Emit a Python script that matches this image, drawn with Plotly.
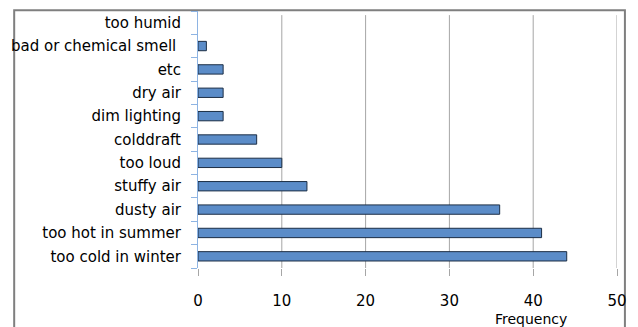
import plotly.graph_objects as go

# Complaint categories, listed bottom to top
categories = [
    "too cold in winter",
    "too hot in summer",
    "dusty air",
    "stuffy air",
    "too loud",
    "colddraft",
    "dim lighting",
    "dry air",
    "etc",
    "bad or chemical smell\u00a0",
    "too humid",
]
frequency = [44, 41, 36, 13, 10, 7, 3, 3, 3, 1, 0]
x_ticks = [0, 10, 20, 30, 40, 50]

FONT = "DejaVu Sans"
GRID = "#A6A6A6"

# no outline on empty bars so the axis line stays clean
outline_widths = [1 if v > 0 else 0 for v in frequency]

fig = go.Figure(
    go.Bar(
        x=frequency,
        y=categories,
        orientation="h",
        marker=dict(color="#5B8CC8", line=dict(color="#1C2E45", width=outline_widths)),
    )
)

# vertical gridlines stop a little short of the top of the category band
grid_shapes = [
    dict(
        type="line",
        xref="x",
        yref="paper",
        x0=v,
        x1=v,
        y0=0,
        y1=0.984,
        line=dict(color=GRID, width=1),
        layer="below",
    )
    for v in x_ticks
    if v > 0
]

frame = dict(
    type="rect",
    xref="paper",
    yref="paper",
    x0=-0.4387,
    x1=1.0189,
    y0=-0.5,
    y1=1.003,
    line=dict(color="#7F7F7F", width=2),
    layer="below",
)

fig.update_layout(
    width=638,
    height=327,
    margin=dict(l=198, r=16, t=11, b=59),
    paper_bgcolor="white",
    plot_bgcolor="white",
    bargap=0.6,
    showlegend=False,
    font=dict(family=FONT, size=15, color="black"),
    xaxis=dict(
        range=[0, 50],
        tickvals=x_ticks,
        showgrid=False,
        zeroline=False,
        showline=False,
        ticks="outside",
        ticklen=7,
        tickcolor=GRID,
        ticklabelstandoff=12,
        tickfont=dict(family=FONT, size=15),
    ),
    yaxis=dict(
        type="category",
        categoryorder="array",
        categoryarray=categories,
        showline=True,
        linecolor="#8EB4E3",
        linewidth=1,
        ticks="outside",
        tickson="boundaries",
        ticklen=6,
        tickcolor="#8EB4E3",
        ticklabelstandoff=13,
        showgrid=False,
        tickfont=dict(family=FONT, size=15),
    ),
    annotations=[
        dict(
            text="Frequency",
            xref="paper",
            yref="paper",
            x=0.795,
            y=-0.198,
            xanchor="center",
            yanchor="middle",
            showarrow=False,
            borderpad=0,
            font=dict(family=FONT, size=14),
        )
    ],
    shapes=grid_shapes + [frame],
)

fig.write_html("out.html")
